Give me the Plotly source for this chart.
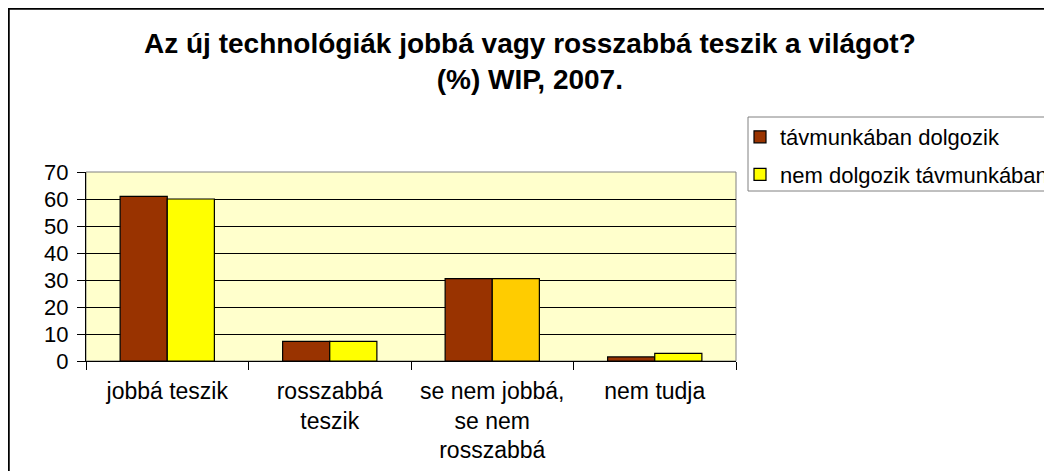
import plotly.graph_objects as go

categories = ["jobbá teszik", "rosszabbá teszik", "se nem jobbá, se nem rosszabbá", "nem tudja"]
tick_labels = ["jobbá teszik", "rosszabbá<br>teszik", "se nem jobbá,<br>se nem<br>rosszabbá", "nem tudja"]
tavmunka = [61, 7.3, 30.5, 1.5]
nem_tavmunka = [60, 7.3, 30.5, 2.8]
series_names = ["távmunkában dolgozik", "nem dolgozik távmunkában"]
y_ticks = [0, 10, 20, 30, 40, 50, 60, 70]

W, H = 1052, 471
OFF = 8  # page body margin
L, R, T, B = 86 - OFF, 736 - OFF, 172 - OFF, 361 - OFF  # plot area pixels in figure
pw, ph = R - L, B - T

def px_x(x):
    return (x - L) / pw

def px_y(y):
    return (B - y) / ph

font = "Liberation Sans, Arial, sans-serif"

fig = go.Figure()
fig.add_trace(go.Bar(
    x=categories, y=tavmunka, name=series_names[0], legendgroup="a",
    marker=dict(color="#993300", line=dict(color="#000000", width=1.2)),
))
fig.add_trace(go.Bar(
    x=categories, y=nem_tavmunka, name=series_names[1], legendgroup="b",
    marker=dict(color=["#FFFF00", "#FFFF00", "#FFCC00", "#FFFF00"],
                line=dict(color="#000000", width=1.2)),
))

fig.update_layout(
    width=W, height=H,
    margin=dict(l=L, r=W - R, t=T, b=H - B, autoexpand=False),
    paper_bgcolor="white",
    plot_bgcolor="#FFFFCC",
    barmode="group", bargap=0.42, bargroupgap=0,
    font=dict(family=font, color="black", size=22),
    legend=dict(
        x=px_x(740 - OFF), y=px_y(116 - OFF), xanchor="left", yanchor="top",
        bgcolor="rgba(0,0,0,0)", borderwidth=0,
        font=dict(family=font, size=22, color="black"),
        tracegroupgap=6,
        traceorder="grouped",
    ),
    xaxis=dict(
        tickmode="array", tickvals=categories, ticktext=tick_labels,
        ticks="outside", tickson="boundaries", ticklen=8, tickcolor="black",
        showline=True, linecolor="black", linewidth=1,
        showgrid=False, tickfont=dict(size=23), ticklabelstandoff=9,
    ),
    yaxis=dict(
        range=[0, 70], tickvals=y_ticks,
        ticks="outside", ticklen=8, tickcolor="black",
        showline=True, linecolor="black", linewidth=1,
        showgrid=True, gridcolor="black", gridwidth=1,
        zeroline=False, tickfont=dict(size=22), ticklabelstandoff=4,
    ),
    annotations=[
        dict(text="<b>Az új technológiák jobbá vagy rosszabbá teszik a világot?<br>(%) WIP, 2007.</b>",
             xref="paper", yref="paper", x=px_x(530 - OFF), y=px_y(61 - OFF),
             xanchor="center", yanchor="middle", showarrow=False,
             font=dict(family=font, size=28, color="black")),
    ],
    shapes=[
        dict(type="rect", xref="paper", yref="paper", x0=0, x1=1, y0=0, y1=1,
             line=dict(color="#808080", width=1), layer="below"),
        # legend box
        dict(type="rect", xref="paper", yref="paper",
             x0=px_x(748 - OFF), x1=px_x(1100), y0=px_y(117 - OFF), y1=px_y(191 - OFF),
             line=dict(color="#808080", width=1), fillcolor="white", layer="below"),
        # chart border
        dict(type="rect", xref="paper", yref="paper",
             x0=px_x(0.5), x1=px_x(1100), y0=px_y(0.5), y1=px_y(520),
             line=dict(color="black", width=2.5), fillcolor="rgba(0,0,0,0)"),
    ],
)

fig.write_html("out.html")
